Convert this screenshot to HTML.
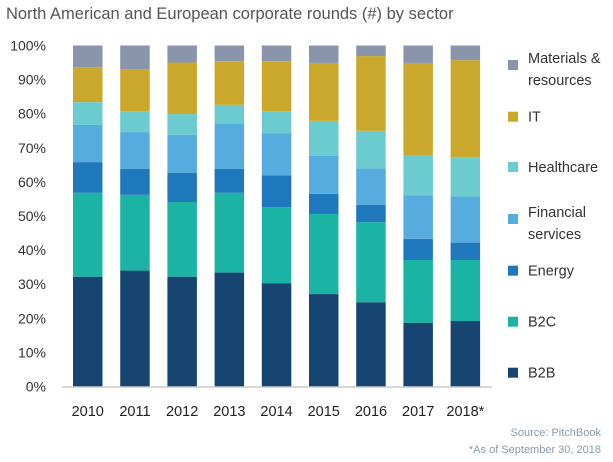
<!DOCTYPE html>
<html><head><meta charset="utf-8"><style>
body{margin:0;background:#fff;font-family:"Liberation Sans",sans-serif}
svg text{font-family:"Liberation Sans",sans-serif}
</style></head><body>
<svg width="613" height="457">
<text x="6" y="19" font-size="16.5" fill="#555">North American and European corporate rounds (#) by sector</text>
<g id="yaxis"></g><g id="bars"></g><g id="xaxis"></g><g id="legend"></g>
<line x1="62" x2="492" y1="387" y2="387" stroke="#ccc" stroke-width="1.5"/>
<text x="601" y="436" font-size="11" fill="#8a9aaa" text-anchor="end">Source: PitchBook</text>
<text x="601" y="453" font-size="11" fill="#8a9aaa" text-anchor="end">*As of September 30, 2018</text>
</svg>
<script>
const categories=["2010","2011","2012","2013","2014","2015","2016","2017","2018*"];
const seriesNames=["B2B","B2C","Energy","Financial services","Healthcare","IT","Materials & resources"];
const b2b=[32.2,34.0,32.2,33.4,30.3,27.1,24.7,18.7,19.2];
const b2c=[24.6,22.2,21.9,23.4,22.3,23.5,23.5,18.4,17.9];
const energy=[9.0,7.6,8.6,7.0,9.3,5.9,5.1,6.2,5.1];
const financial=[10.9,10.8,11.1,13.3,12.4,11.1,10.6,12.7,13.5];
const healthcare=[6.7,6.1,6.1,5.5,6.4,10.3,11.1,11.9,11.5];
const it=[10.2,12.3,15.1,12.8,14.7,17.0,21.9,27.0,28.5];
const materials=[6.4,7.0,5.0,4.6,4.6,5.1,3.1,5.1,4.3];
const yTicks=[0,10,20,30,40,50,60,70,80,90,100];
const series=[b2b,b2c,energy,financial,healthcare,it,materials];
const colors=["#154570","#1bb3a3","#1f78bb","#56acde","#6bcbcf","#c9a82c","#8a95ab"];
const legendLabels=[["Materials &","resources"],["IT"],["Healthcare"],["Financial","services"],["Energy"],["B2C"],["B2B"]];
const NS="http://www.w3.org/2000/svg";
const y0=386.5,y100=45.5;
const yScale=v=>y0-(y0-y100)*v/100;
const xScale=i=>73+i*47.2;
const bw=29.5;
function mk(tag,attrs,parent){const e=document.createElementNS(NS,tag);for(const k in attrs)e.setAttribute(k,attrs[k]);parent.appendChild(e);return e;}
const gy=document.getElementById('yaxis');
yTicks.forEach(t=>{const e=mk('text',{x:46,y:yScale(t)+5,'font-size':14,fill:'#333','text-anchor':'end'},gy);e.textContent=t+'%';

});
const gb=document.getElementById('bars');
categories.forEach((c,i)=>{let cum=0;series.forEach((s,k)=>{const v=s[i];const top=yScale(cum+v),bot=yScale(cum);cum+=v;
const r=mk('rect',{x:xScale(i),y:top,width:bw,height:bot-top,fill:colors[k]},gb);

});
const t=mk('text',{x:xScale(i)+bw/2,y:416,'font-size':14.5,fill:'#222','text-anchor':'middle'},document.getElementById('xaxis'));t.textContent=c;

});
const gl=document.getElementById('legend');
const ly=[65,116.7,167,219,270.7,321.7,372.7];
legendLabels.forEach((lab,j)=>{const k=6-j;const g=mk('g',{},gl);


mk('rect',{x:508,y:ly[j]-5,width:10,height:10,fill:colors[k]},g);
const top=lab.length>1?ly[j]-2:ly[j]+5;
lab.forEach((l,m)=>{const t=mk('text',{x:528,y:top+m*22,'font-size':14.5,fill:'#333'},g);t.textContent=l;});});
</script>
</body></html>
